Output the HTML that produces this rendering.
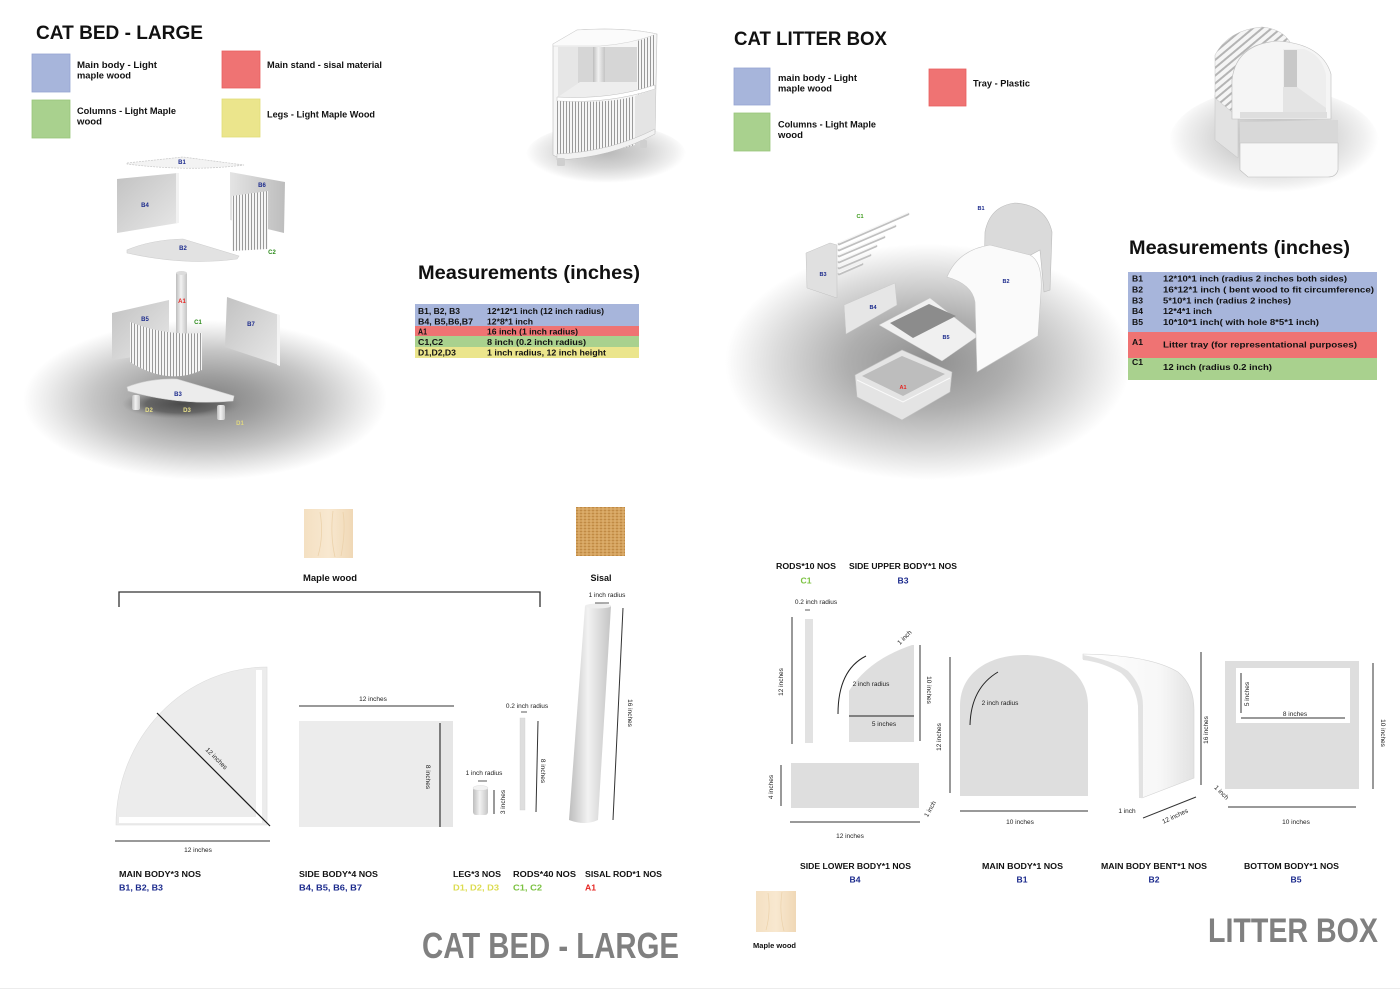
<!DOCTYPE html>
<html><head><meta charset="utf-8"><style>
html,body{margin:0;padding:0;background:#fff;}
svg{display:block;font-family:"Liberation Sans",Arial,sans-serif;}
.b{font-weight:bold;}
</style></head><body>
<svg width="1400" height="990" viewBox="0 0 1400 990" xmlns="http://www.w3.org/2000/svg">
<defs>
<radialGradient id="sh" cx="50%" cy="50%" r="50%">
 <stop offset="0" stop-color="#7f7f7f"/>
 <stop offset="0.3" stop-color="#9e9e9e"/>
 <stop offset="0.62" stop-color="#c6c6c6"/>
 <stop offset="0.86" stop-color="#ebebeb"/>
 <stop offset="1" stop-color="#ffffff"/>
</radialGradient>
<radialGradient id="shl" cx="50%" cy="50%" r="50%">
 <stop offset="0" stop-color="#8e8e8e"/>
 <stop offset="0.4" stop-color="#afafaf"/>
 <stop offset="0.75" stop-color="#dcdcdc"/>
 <stop offset="1" stop-color="#ffffff"/>
</radialGradient>
<radialGradient id="shs" cx="50%" cy="45%" r="50%">
 <stop offset="0" stop-color="#b8b8b8"/>
 <stop offset="0.5" stop-color="#d4d4d4"/>
 <stop offset="0.85" stop-color="#f0f0f0"/>
 <stop offset="1" stop-color="#ffffff"/>
</radialGradient>
<radialGradient id="dk" cx="50%" cy="50%" r="50%">
 <stop offset="0" stop-color="#4a4a4a"/>
 <stop offset="0.6" stop-color="#666"/>
 <stop offset="1" stop-color="#8a8a8a" stop-opacity="0"/>
</radialGradient>
<linearGradient id="pnl" x1="0" y1="0" x2="1" y2="1">
 <stop offset="0" stop-color="#c2c2c2"/>
 <stop offset="1" stop-color="#e8e8e8"/>
</linearGradient>
<linearGradient id="pnl2" x1="0" y1="0" x2="1" y2="0">
 <stop offset="0" stop-color="#e4e4e4"/>
 <stop offset="1" stop-color="#bdbdbd"/>
</linearGradient>
<linearGradient id="cyl" x1="0" y1="0" x2="1" y2="0">
 <stop offset="0" stop-color="#bdbdbd"/>
 <stop offset="0.45" stop-color="#f2f2f2"/>
 <stop offset="1" stop-color="#c4c4c4"/>
</linearGradient>
<linearGradient id="bent" x1="0" y1="0" x2="1" y2="0">
 <stop offset="0" stop-color="#ffffff"/>
 <stop offset="0.7" stop-color="#f7f7f7"/>
 <stop offset="1" stop-color="#e2e2e2"/>
</linearGradient>
<linearGradient id="maple" x1="0" y1="0" x2="1" y2="0">
 <stop offset="0" stop-color="#f4e0c2"/>
 <stop offset="0.5" stop-color="#f8e8d0"/>
 <stop offset="1" stop-color="#f0d8b6"/>
</linearGradient>
<pattern id="rods" width="4.5" height="10" patternUnits="userSpaceOnUse">
 <rect width="4.5" height="10" fill="#8e8e8e"/>
 <rect x="0" width="3" height="10" fill="#f5f5f5"/>
</pattern>
<pattern id="rods2" width="3" height="10" patternUnits="userSpaceOnUse">
 <rect width="3" height="10" fill="#9a9a9a"/>
 <rect x="0" width="2" height="10" fill="#f6f6f6"/>
</pattern>
<pattern id="slats" width="6" height="6" patternUnits="userSpaceOnUse" patternTransform="rotate(-40)">
 <rect width="6" height="6" fill="#b4b4b4"/>
 <rect y="0" width="6" height="4" fill="#f5f5f5"/>
</pattern>
<pattern id="sisal" width="4" height="3" patternUnits="userSpaceOnUse">
 <rect width="4" height="3" fill="#d3a15c"/>
 <rect width="2" height="1" fill="#c08a45"/>
 <rect x="2" y="1.5" width="2" height="1" fill="#e0b577"/>
</pattern>
</defs>

<rect width="1400" height="990" fill="#fff"/>

<!-- ================= CAT BED TOP ================= -->
<text x="36" y="39" class="b" font-size="19.5" fill="#111" textLength="167" lengthAdjust="spacingAndGlyphs">CAT BED - LARGE</text>

<rect x="32" y="54" width="38" height="38" fill="#a7b5db" stroke="#95a5d2" stroke-width="0.8"/>
<text x="77" y="68" class="b" font-size="9.5" fill="#111" textLength="80" lengthAdjust="spacingAndGlyphs">Main body -  Light</text>
<text x="77" y="78.5" class="b" font-size="9.5" fill="#111" textLength="54" lengthAdjust="spacingAndGlyphs">maple wood</text>

<rect x="222" y="51" width="38" height="37" fill="#ef7373" stroke="#e86060" stroke-width="0.8"/>
<text x="267" y="68" class="b" font-size="9.5" fill="#111" textLength="115" lengthAdjust="spacingAndGlyphs">Main stand - sisal material</text>

<rect x="32" y="100" width="38" height="38" fill="#a9d18e" stroke="#98c67c" stroke-width="0.8"/>
<text x="77" y="114" class="b" font-size="9.5" fill="#111" textLength="99" lengthAdjust="spacingAndGlyphs">Columns - Light Maple</text>
<text x="77" y="124.5" class="b" font-size="9.5" fill="#111" textLength="25" lengthAdjust="spacingAndGlyphs">wood</text>

<rect x="222" y="99" width="38" height="38" fill="#ebe58c" stroke="#e2dc78" stroke-width="0.8"/>
<text x="267" y="117.5" class="b" font-size="9.5" fill="#111" textLength="108" lengthAdjust="spacingAndGlyphs">Legs - Light Maple Wood</text>

<!-- cat bed exploded shadow -->
<ellipse cx="205" cy="400" rx="182" ry="80" fill="url(#sh)"/>
<ellipse cx="182" cy="404" rx="60" ry="15" fill="url(#dk)"/>

<!-- B1 -->
<path d="M127,163 L183,157 L244,165 Q190,172 127,164 Z" fill="#f3f3f3" stroke="#c8c8c8" stroke-width="0.7" stroke-dasharray="2,1"/>
<!-- B4 -->
<path d="M117,179 L178,173 L178,223 L117,233 Z" fill="url(#pnl)"/>
<path d="M176,173 L179,173 L179,223 L176,223 Z" fill="#f2f2f2"/>
<!-- B6 -->
<path d="M230,172 L285,182 L284,233 L230,220 Z" fill="url(#pnl2)"/>
<path d="M232,196 L268,191 L268,249 L232,251 Z" fill="url(#rods2)"/>
<!-- B2 -->
<path d="M127,250 Q150,240 183,239 L239,256 L237,259 Q185,266 127,253 Z" fill="#e2e2e2" stroke="#cfcfcf" stroke-width="0.6"/>
<!-- A1 -->
<rect x="176" y="273" width="11" height="62" fill="url(#cyl)"/>
<ellipse cx="181.5" cy="273" rx="5.5" ry="2" fill="#dcdcdc"/>
<!-- B5 -->
<path d="M112,313 L169,300 L169,352 L112,360 Z" fill="url(#pnl)"/>
<!-- C1 curved rods -->
<path d="M130,322 Q165,336 202,333 L202,370 Q168,386 130,362 Z" fill="url(#rods2)"/>
<!-- B7 -->
<path d="M227,297 L279,315 L279,365 L225,347 Z" fill="url(#pnl)"/>
<path d="M277,314 L280,315 L280,366 L277,365 Z" fill="#f4f4f4"/>
<!-- B3 -->
<path d="M127,387 Q150,378 177,379 L234,396 L233,401 Q180,406 128,391 Z" fill="#ececec" stroke="#cfcfcf" stroke-width="0.6"/>
<!-- legs -->
<rect x="132" y="395" width="8" height="15" rx="2" fill="url(#cyl)"/>
<rect x="217" y="405" width="8" height="15" rx="2" fill="url(#cyl)"/>

<g class="b" font-size="6" text-anchor="middle">
<text x="182" y="164" fill="#1b2a8c">B1</text>
<text x="145" y="207" fill="#1b2a8c">B4</text>
<text x="262" y="187" fill="#1b2a8c">B6</text>
<text x="183" y="250" fill="#1b2a8c">B2</text>
<text x="272" y="254" fill="#2b8a1a">C2</text>
<text x="182" y="303" fill="#e52421">A1</text>
<text x="145" y="321" fill="#1b2a8c">B5</text>
<text x="198" y="324" fill="#2b8a1a">C1</text>
<text x="251" y="326" fill="#1b2a8c">B7</text>
<text x="178" y="396" fill="#1b2a8c">B3</text>
<text x="149" y="412" fill="#e8e08a">D2</text>
<text x="187" y="412" fill="#e8e08a">D3</text>
<text x="240" y="425" fill="#e0d880">D1</text>
</g>

<!-- cat bed thumbnail -->
<ellipse cx="606" cy="155" rx="80" ry="31" fill="url(#shs)"/>
<path d="M553,44 L577,30 Q625,27 657,34 L655,132 Q610,152 557,157 L553,155 Z" fill="#f6f6f6" stroke="#bdbdbd" stroke-width="0.6"/>
<path d="M553,44 L577,30 Q625,27 657,34 Q630,44 600,46 L553,46 Z" fill="#fbfbfb" stroke="#d0d0d0" stroke-width="0.5"/>
<rect x="558" y="47" width="20" height="50" fill="#e6e6e6"/>
<rect x="578" y="47" width="59" height="36" fill="#d6d6d6"/>
<rect x="593" y="47" width="12" height="43" fill="url(#cyl)"/>
<path d="M558,97 L580,82 L637,82 L637,90 Q600,98 558,98 Z" fill="#eeeeee"/>
<path d="M637,41 Q648,38 656,34 L655,87 Q645,92 637,95 Z" fill="url(#rods2)"/>
<path d="M557,97 Q610,100 655,85 L655,89 Q610,104 557,101 Z" fill="#fff" stroke="#bdbdbd" stroke-width="0.5"/>
<path d="M557,101 Q610,104 635,96 L635,145 Q600,155 557,156 Z" fill="url(#rods2)"/>
<path d="M635,96 L655,89 L655,130 L635,141 Z" fill="#e4e4e4"/>
<path d="M557,154 Q610,152 655,129 L655,134 Q610,158 557,160 Z" fill="#f2f2f2" stroke="#bdbdbd" stroke-width="0.5"/>
<rect x="557" y="158" width="8" height="8" rx="1.5" fill="#cfcfcf"/>
<rect x="640" y="140" width="7" height="8" rx="1.5" fill="#cfcfcf"/>

<!-- cat bed measurements -->
<text x="418" y="279" class="b" font-size="19" fill="#111" textLength="222" lengthAdjust="spacingAndGlyphs">Measurements (inches)</text>
<rect x="415" y="304" width="224" height="22" fill="#a7b5db"/>
<rect x="415" y="326" width="224" height="10" fill="#ef7373"/>
<rect x="415" y="336" width="224" height="11" fill="#a9d18e"/>
<rect x="415" y="347" width="224" height="11" fill="#ebe58c"/>
<g class="b" font-size="8.6" fill="#111">
<text x="418" y="314" textLength="42" lengthAdjust="spacingAndGlyphs">B1, B2, B3</text>
<text x="487" y="314" textLength="117" lengthAdjust="spacingAndGlyphs">12*12*1 inch (12 inch radius)</text>
<text x="418" y="324.5" textLength="55" lengthAdjust="spacingAndGlyphs">B4, B5,B6,B7</text>
<text x="487" y="324.5" textLength="46" lengthAdjust="spacingAndGlyphs">12*8*1 inch</text>
<text x="418" y="334.5" textLength="9" lengthAdjust="spacingAndGlyphs">A1</text>
<text x="487" y="334.5" textLength="91" lengthAdjust="spacingAndGlyphs">16 inch (1 inch radius)</text>
<text x="418" y="345" textLength="25" lengthAdjust="spacingAndGlyphs">C1,C2</text>
<text x="487" y="345" textLength="99" lengthAdjust="spacingAndGlyphs">8 inch (0.2 inch radius)</text>
<text x="418" y="355.5" textLength="38" lengthAdjust="spacingAndGlyphs">D1,D2,D3</text>
<text x="487" y="355.5" textLength="119" lengthAdjust="spacingAndGlyphs">1 inch radius, 12 inch height</text>
</g>

<!-- ================= LITTER BOX TOP ================= -->
<text x="734" y="45" class="b" font-size="19.5" fill="#111" textLength="153" lengthAdjust="spacingAndGlyphs">CAT LITTER BOX</text>

<rect x="734" y="68" width="36" height="37" fill="#a7b5db" stroke="#95a5d2" stroke-width="0.8"/>
<text x="778" y="81" class="b" font-size="9.5" fill="#111" textLength="79" lengthAdjust="spacingAndGlyphs">main body -  Light</text>
<text x="778" y="91.5" class="b" font-size="9.5" fill="#111" textLength="54" lengthAdjust="spacingAndGlyphs">maple wood</text>
<rect x="929" y="69" width="37" height="37" fill="#ef7373" stroke="#e86060" stroke-width="0.8"/>
<text x="973" y="86.5" class="b" font-size="9.5" fill="#111" textLength="57" lengthAdjust="spacingAndGlyphs">Tray - Plastic</text>
<rect x="734" y="113" width="36" height="38" fill="#a9d18e" stroke="#98c67c" stroke-width="0.8"/>
<text x="778" y="127.5" class="b" font-size="9.5" fill="#111" textLength="98" lengthAdjust="spacingAndGlyphs">Columns - Light Maple</text>
<text x="778" y="138" class="b" font-size="9.5" fill="#111" textLength="25" lengthAdjust="spacingAndGlyphs">wood</text>

<!-- litter thumbnail -->
<ellipse cx="1274" cy="143" rx="105" ry="55" fill="url(#shs)"/>
<path d="M1215,95 L1238,112 L1238,158 L1215,140 Z" fill="#e2e2e2" stroke="#c4c4c4" stroke-width="0.5"/>
<path d="M1215,98 L1215,55 Q1228,30 1262,27 Q1282,29 1290,42 L1270,42 Q1236,46 1232,80 L1232,112 Z" fill="url(#slats)" stroke="#c4c4c4" stroke-width="0.5"/>
<path d="M1232,119 L1232,80 Q1236,44 1278,41 Q1322,44 1331,74 L1331,119 Z" fill="#f5f5f5" stroke="#bdbdbd" stroke-width="0.6"/>
<path d="M1283,49 L1304,49 Q1322,55 1326,75 L1326,114 L1283,114 Z" fill="#eeeeee"/>
<rect x="1284" y="50" width="13" height="37" fill="#c8c8c8"/>
<path d="M1283,87 L1297,87 L1326,108 L1326,114 L1283,114 Z" fill="#e4e4e4"/>
<rect x="1240" y="112" width="87" height="6" fill="#dedede"/>
<path d="M1240,122 L1338,120 L1338,143 L1240,143 Z" fill="#d8d8d8"/>
<path d="M1240,143 L1338,143 L1338,170 Q1336,177 1328,177 L1248,177 L1240,170 Z" fill="#f7f7f7" stroke="#bdbdbd" stroke-width="0.6"/>

<!-- litter exploded shadow -->
<ellipse cx="928" cy="362" rx="203" ry="118" fill="url(#shl)"/>

<!-- B1 arch -->
<path d="M984,280 L985,232 Q990,206 1015,203 Q1046,205 1052,232 L1050,290 L1044,292 L1040,250 Z" fill="#dadada" stroke="#bcbcbc" stroke-width="0.6"/>
<!-- B3 + rods -->
<path d="M806,253 L830,243 L837,245 L837,298 L807,288 Z" fill="#e0e0e0" stroke="#c2c2c2" stroke-width="0.5"/>
<g stroke="#bfbfbf" stroke-width="2.6" stroke-linecap="round">
<line x1="839" y1="244" x2="908" y2="214"/>
<line x1="839" y1="250" x2="895" y2="226"/>
<line x1="839" y1="256" x2="884" y2="237"/>
<line x1="839" y1="262" x2="876" y2="246"/>
<line x1="839" y1="268" x2="870" y2="255"/>
<line x1="839" y1="274" x2="862" y2="264"/>
</g>
<g stroke="#f7f7f7" stroke-width="1.2" stroke-linecap="round">
<line x1="839" y1="243" x2="908" y2="213"/>
<line x1="839" y1="249" x2="895" y2="225"/>
<line x1="839" y1="255" x2="884" y2="236"/>
<line x1="839" y1="261" x2="876" y2="245"/>
<line x1="839" y1="267" x2="870" y2="254"/>
<line x1="839" y1="273" x2="862" y2="263"/>
</g>
<!-- B4 -->
<path d="M844,305 L895,283 L897,305 L846,334 Z" fill="#e6e6e6" stroke="#c8c8c8" stroke-width="0.5"/>
<!-- B5 -->
<path d="M879,325 L930,298 L978,336 L942,361 Z" fill="#f0f0f0" stroke="#c8c8c8" stroke-width="0.5"/>
<path d="M890,323 L929,304 L956,316 L913,338 Z" fill="#8c8c8c"/>
<!-- B2 hood -->
<path d="M947,277 Q958,250 990,245 L1030,255 Q1043,262 1041,292 L1038,336 L977,372 L975,302 Q972,284 947,277 Z" fill="#fafafa" stroke="#c6c6c6" stroke-width="0.6"/>
<!-- A1 tray -->
<path d="M855,375 L902,350 L952,372 L950,392 L902,420 L857,397 Z" fill="#e4e4e4" stroke="#c0c0c0" stroke-width="0.6"/>
<path d="M862,376 L902,356 L945,374 L903,396 Z" fill="#bdbdbd"/>
<path d="M857,380 L903,402 L950,378" fill="none" stroke="#fafafa" stroke-width="1"/>

<g class="b" font-size="5.5" text-anchor="middle">
<text x="860" y="218" fill="#3a9a18">C1</text>
<text x="981" y="210" fill="#1b2a8c">B1</text>
<text x="823" y="276" fill="#1b2a8c">B3</text>
<text x="1006" y="283" fill="#1b2a8c">B2</text>
<text x="873" y="309" fill="#1b2a8c">B4</text>
<text x="946" y="339" fill="#1b2a8c">B5</text>
<text x="903" y="389" fill="#e52421">A1</text>
</g>

<!-- litter measurements -->
<text x="1129" y="254" class="b" font-size="19" fill="#111" textLength="221" lengthAdjust="spacingAndGlyphs">Measurements (inches)</text>
<rect x="1128" y="272" width="249" height="60" fill="#a7b5db"/>
<rect x="1128" y="332" width="249" height="26" fill="#ef7373"/>
<rect x="1128" y="358" width="249" height="22" fill="#a9d18e"/>
<g class="b" font-size="8.6" fill="#111">
<text x="1132" y="281.5">B1</text><text x="1163" y="281.5" textLength="184" lengthAdjust="spacingAndGlyphs">12*10*1 inch (radius 2 inches both sides)</text>
<text x="1132" y="292.5">B2</text><text x="1163" y="292.5" textLength="211" lengthAdjust="spacingAndGlyphs">16*12*1 inch ( bent wood to fit circumference)</text>
<text x="1132" y="303.5">B3</text><text x="1163" y="303.5" textLength="128" lengthAdjust="spacingAndGlyphs">5*10*1 inch (radius 2 inches)</text>
<text x="1132" y="314">B4</text><text x="1163" y="314" textLength="49" lengthAdjust="spacingAndGlyphs">12*4*1 inch</text>
<text x="1132" y="325">B5</text><text x="1163" y="325" textLength="156" lengthAdjust="spacingAndGlyphs">10*10*1 inch( with hole 8*5*1 inch)</text>
<text x="1132" y="345">A1</text><text x="1163" y="347.5" textLength="194" lengthAdjust="spacingAndGlyphs">Litter tray (for representational purposes)</text>
<text x="1132" y="365">C1</text><text x="1163" y="370" textLength="109" lengthAdjust="spacingAndGlyphs">12 inch (radius 0.2 inch)</text>
</g>

<!-- ================= CAT BED BOTTOM ================= -->
<rect x="304" y="509" width="49" height="49" fill="url(#maple)"/>
<path d="M320,512 Q324,535 318,556 M333,511 Q330,535 335,557 M343,512 Q346,530 341,556" fill="none" stroke="#ecd2ab" stroke-width="0.8"/>
<text x="330" y="581" class="b" font-size="9" fill="#111" text-anchor="middle" textLength="54" lengthAdjust="spacingAndGlyphs">Maple wood</text>
<rect x="576" y="507" width="49" height="49" fill="url(#sisal)"/>
<text x="601" y="581" class="b" font-size="9" fill="#111" text-anchor="middle">Sisal</text>

<path d="M119,607 L119,592 L540,592 L540,607" fill="none" stroke="#333" stroke-width="1.3"/>

<!-- quarter -->
<path d="M267,825 L116,825 A151,158 0 0 1 267,667 Z" fill="#ececec" stroke="#dcdcdc" stroke-width="0.6"/>
<rect x="119" y="817" width="143" height="6" fill="#fff"/>
<rect x="256" y="670" width="6" height="148" fill="#fff"/>
<line x1="157" y1="713" x2="270" y2="826" stroke="#1a1a1a" stroke-width="1.2"/>
<text x="0" y="0" font-size="6.5" fill="#222" text-anchor="middle" transform="translate(215,760) rotate(45)">12 inches</text>
<line x1="115" y1="841" x2="270" y2="841" stroke="#333" stroke-width="1"/>
<text x="198" y="852" font-size="6.5" fill="#222" text-anchor="middle">12 inches</text>

<!-- side body -->
<rect x="299" y="721" width="154" height="106" fill="#ececec"/>
<rect x="441" y="721" width="12" height="106" fill="#e6e6e6"/>
<line x1="299" y1="706" x2="454" y2="706" stroke="#333" stroke-width="1"/>
<text x="373" y="701" font-size="6.5" fill="#222" text-anchor="middle">12 inches</text>
<line x1="440" y1="723" x2="440" y2="827" stroke="#222" stroke-width="1.1"/>
<text x="0" y="0" font-size="6.5" fill="#222" text-anchor="middle" transform="translate(426,777) rotate(90)">8 inches</text>

<!-- leg -->
<rect x="473" y="787" width="15" height="28" rx="3" fill="url(#cyl)"/>
<ellipse cx="480.5" cy="788" rx="7.5" ry="2.5" fill="#f2f2f2" stroke="#d6d6d6" stroke-width="0.4"/>
<text x="484" y="775" font-size="6.5" fill="#222" text-anchor="middle">1 inch radius</text>
<line x1="478" y1="781" x2="487" y2="781" stroke="#333" stroke-width="0.8"/>
<line x1="494" y1="790" x2="494" y2="814" stroke="#333" stroke-width="1"/>
<text x="0" y="0" font-size="6.5" fill="#222" text-anchor="middle" transform="translate(505,802) rotate(-90)">3 inches</text>

<!-- rod -->
<rect x="520" y="718" width="5" height="92" fill="#dedede" stroke="#cfcfcf" stroke-width="0.4"/>
<text x="527" y="708" font-size="6.5" fill="#222" text-anchor="middle">0.2 inch radius</text>
<line x1="521" y1="712" x2="527" y2="712" stroke="#333" stroke-width="0.8"/>
<line x1="538" y1="721" x2="536" y2="812" stroke="#333" stroke-width="1"/>
<text x="0" y="0" font-size="6.5" fill="#222" text-anchor="middle" transform="translate(541,771) rotate(90)">8 inches</text>

<!-- sisal rod -->
<path d="M585,606 L611,606 L598,820 Q585,826 569,820 Z" fill="url(#cyl)"/>
<ellipse cx="598" cy="606" rx="13" ry="2.5" fill="#eeeeee"/>
<text x="607" y="597" font-size="6.5" fill="#222" text-anchor="middle">1 inch radius</text>
<line x1="595" y1="603" x2="609" y2="603" stroke="#333" stroke-width="0.8"/>
<line x1="623" y1="608" x2="613" y2="820" stroke="#333" stroke-width="1"/>
<text x="0" y="0" font-size="6.5" fill="#222" text-anchor="middle" transform="translate(628,713) rotate(90)">16 inches</text>

<!-- labels -->
<g class="b" font-size="8.6">
<text x="119" y="877" fill="#111" textLength="82" lengthAdjust="spacingAndGlyphs">MAIN BODY*3 NOS</text>
<text x="119" y="890.5" fill="#1b2a8c" textLength="44" lengthAdjust="spacingAndGlyphs">B1, B2, B3</text>
<text x="299" y="877" fill="#111" textLength="79" lengthAdjust="spacingAndGlyphs">SIDE BODY*4 NOS</text>
<text x="299" y="890.5" fill="#1b2a8c" textLength="63" lengthAdjust="spacingAndGlyphs">B4, B5, B6, B7</text>
<text x="453" y="877" fill="#111" textLength="48" lengthAdjust="spacingAndGlyphs">LEG*3 NOS</text>
<text x="453" y="890.5" fill="#dcdc50" textLength="46" lengthAdjust="spacingAndGlyphs">D1, D2, D3</text>
<text x="513" y="877" fill="#111" textLength="63" lengthAdjust="spacingAndGlyphs">RODS*40 NOS</text>
<text x="513" y="890.5" fill="#7cc242" textLength="29" lengthAdjust="spacingAndGlyphs">C1, C2</text>
<text x="585" y="877" fill="#111" textLength="77" lengthAdjust="spacingAndGlyphs">SISAL ROD*1 NOS</text>
<text x="585" y="890.5" fill="#e52421">A1</text>
</g>

<text x="422" y="958" class="b" font-size="36" fill="#808080" textLength="257" lengthAdjust="spacingAndGlyphs">CAT BED - LARGE</text>

<!-- ================= LITTER BOX BOTTOM ================= -->
<g class="b" font-size="8.6">
<text x="776" y="569" fill="#111" textLength="60" lengthAdjust="spacingAndGlyphs">RODS*10 NOS</text>
<text x="806" y="583.5" fill="#7cc242" text-anchor="middle">C1</text>
<text x="849" y="569" fill="#111" textLength="108" lengthAdjust="spacingAndGlyphs">SIDE UPPER BODY*1 NOS</text>
<text x="903" y="583.5" fill="#1b2a8c" text-anchor="middle">B3</text>
</g>

<!-- rod -->
<text x="816" y="604" font-size="6.5" fill="#222" text-anchor="middle">0.2 inch radius</text>
<line x1="805" y1="610" x2="810" y2="610" stroke="#333" stroke-width="0.8"/>
<rect x="805" y="619" width="8" height="124" fill="#e2e2e2"/>
<line x1="792" y1="617" x2="792" y2="744" stroke="#333" stroke-width="1"/>
<text x="0" y="0" font-size="6.5" fill="#222" text-anchor="middle" transform="translate(783,682) rotate(-90)">12 inches</text>

<!-- side upper -->
<path d="M849,742 L849,691 Q868,660 912,645 L914,645 L914,742 Z" fill="#dedede"/>
<line x1="849" y1="716" x2="914" y2="716" stroke="#222" stroke-width="1.1"/>
<path d="M838,714 Q838,670 866,656" fill="none" stroke="#222" stroke-width="1"/>
<text x="871" y="686" font-size="6.5" fill="#222" text-anchor="middle">2 inch radius</text>
<text x="884" y="726" font-size="6.5" fill="#222" text-anchor="middle">5 inches</text>
<text x="0" y="0" font-size="6.5" fill="#222" text-anchor="middle" transform="translate(906,639) rotate(-45)">1 inch</text>
<line x1="920" y1="645" x2="920" y2="741" stroke="#333" stroke-width="1"/>
<text x="0" y="0" font-size="6.5" fill="#222" text-anchor="middle" transform="translate(927,690) rotate(90)">10 inches</text>

<!-- side lower -->
<rect x="791" y="763" width="128" height="45" fill="#dedede"/>
<line x1="781" y1="765" x2="781" y2="806" stroke="#333" stroke-width="1"/>
<text x="0" y="0" font-size="6.5" fill="#222" text-anchor="middle" transform="translate(773,787) rotate(-90)">4 inches</text>
<line x1="790" y1="822" x2="920" y2="822" stroke="#333" stroke-width="1"/>
<text x="850" y="838" font-size="6.5" fill="#222" text-anchor="middle">12 inches</text>
<text x="0" y="0" font-size="6.5" fill="#222" text-anchor="middle" transform="translate(932,810) rotate(-60)">1 inch</text>

<!-- main body B1 -->
<path d="M960,796 L960,706 C960,672 990,655 1024,655 C1058,655 1088,672 1088,706 L1088,796 Z" fill="#dedede"/>
<path d="M970,725 Q971,688 998,672" fill="none" stroke="#222" stroke-width="1"/>
<text x="1000" y="705" font-size="6.5" fill="#222" text-anchor="middle">2 inch radius</text>
<line x1="950" y1="657" x2="950" y2="793" stroke="#333" stroke-width="1"/>
<text x="0" y="0" font-size="6.5" fill="#222" text-anchor="middle" transform="translate(941,737) rotate(-90)">12 inches</text>
<line x1="960" y1="811" x2="1088" y2="811" stroke="#333" stroke-width="1"/>
<text x="1020" y="824" font-size="6.5" fill="#222" text-anchor="middle">10 inches</text>

<!-- main body bent B2 -->
<path d="M1083,654 Q1150,655 1178,672 Q1194,685 1194,710 L1194,778 L1142,798 L1140,705 Q1138,680 1120,670 Q1100,660 1083,659 Z" fill="url(#bent)" stroke="#d4d4d4" stroke-width="0.6"/>
<path d="M1083,655 Q1112,660 1128,671 Q1143,686 1143,706 L1143,798 L1139,798 L1138,706 Q1136,686 1121,673 Q1102,662 1083,660 Z" fill="#e2e2e2"/>
<line x1="1201" y1="652" x2="1201" y2="785" stroke="#333" stroke-width="1"/>
<text x="0" y="0" font-size="6.5" fill="#222" text-anchor="middle" transform="translate(1208,730) rotate(-90)">16 inches</text>
<text x="1127" y="813" font-size="6.5" fill="#222" text-anchor="middle">1 inch</text>
<line x1="1143" y1="818" x2="1196" y2="797" stroke="#333" stroke-width="1"/>
<text x="0" y="0" font-size="6.5" fill="#222" text-anchor="middle" transform="translate(1176,818) rotate(-25)">12 inches</text>

<!-- bottom body B5 -->
<rect x="1225" y="661" width="134" height="128" fill="#dedede"/>
<rect x="1236" y="668" width="114" height="55" fill="#fff"/>
<line x1="1241" y1="673" x2="1241" y2="713" stroke="#333" stroke-width="1"/>
<text x="0" y="0" font-size="6.5" fill="#222" text-anchor="middle" transform="translate(1249,694) rotate(-90)">5 inches</text>
<line x1="1241" y1="718" x2="1345" y2="718" stroke="#333" stroke-width="1"/>
<text x="1295" y="716" font-size="6.5" fill="#222" text-anchor="middle">8 inches</text>
<line x1="1373" y1="663" x2="1373" y2="789" stroke="#333" stroke-width="1"/>
<text x="0" y="0" font-size="6.5" fill="#222" text-anchor="middle" transform="translate(1381,733) rotate(90)">10 inches</text>
<text x="0" y="0" font-size="6.5" fill="#222" text-anchor="middle" transform="translate(1220,794) rotate(45)">1 inch</text>
<line x1="1228" y1="807" x2="1356" y2="807" stroke="#333" stroke-width="1"/>
<text x="1296" y="824" font-size="6.5" fill="#222" text-anchor="middle">10 inches</text>

<g class="b" font-size="8.6">
<text x="800" y="869" fill="#111" textLength="111" lengthAdjust="spacingAndGlyphs">SIDE LOWER BODY*1 NOS</text>
<text x="855" y="882.5" fill="#1b2a8c" text-anchor="middle">B4</text>
<text x="982" y="869" fill="#111" textLength="81" lengthAdjust="spacingAndGlyphs">MAIN BODY*1 NOS</text>
<text x="1022" y="882.5" fill="#1b2a8c" text-anchor="middle">B1</text>
<text x="1101" y="869" fill="#111" textLength="106" lengthAdjust="spacingAndGlyphs">MAIN BODY BENT*1 NOS</text>
<text x="1154" y="882.5" fill="#1b2a8c" text-anchor="middle">B2</text>
<text x="1244" y="869" fill="#111" textLength="95" lengthAdjust="spacingAndGlyphs">BOTTOM BODY*1 NOS</text>
<text x="1296" y="882.5" fill="#1b2a8c" text-anchor="middle">B5</text>
</g>

<rect x="756" y="891" width="40" height="41" fill="url(#maple)"/>
<path d="M768,893 Q771,912 766,930 M782,892 Q779,912 784,931" fill="none" stroke="#ecd2ab" stroke-width="0.7"/>
<text x="753" y="948" class="b" font-size="7.5" fill="#111" textLength="43" lengthAdjust="spacingAndGlyphs">Maple wood</text>

<text x="1208" y="942" class="b" font-size="34" fill="#808080" textLength="170" lengthAdjust="spacingAndGlyphs">LITTER BOX</text>

<line x1="0" y1="988.5" x2="1400" y2="988.5" stroke="#ececec" stroke-width="1"/>
</svg>
</body></html>
